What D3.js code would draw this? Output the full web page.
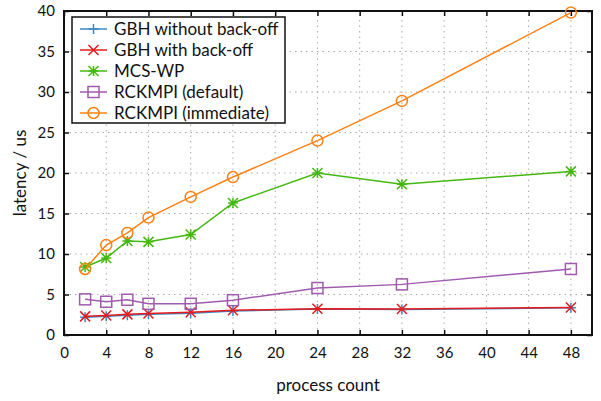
<!DOCTYPE html>
<html><head><meta charset="utf-8">
<script src="https://cdn.jsdelivr.net/npm/d3@7"></script>
<style>body{margin:0;background:#fff;} svg{display:block;font-family:Lato, "Open Sans", sans-serif;}</style>
</head><body>
<svg id="c" width="601" height="401"></svg>
<script>
const processCounts = [2, 4, 6, 8, 12, 16, 24, 32, 48];
const gbhWithout   = [2.2, 2.3, 2.45, 2.55, 2.7, 2.95, 3.2, 3.15, 3.35];
const gbhWith      = [2.3, 2.4, 2.55, 2.65, 2.8, 3.05, 3.25, 3.2, 3.4];
const mcsWp        = [8.4, 9.5, 11.6, 11.5, 12.4, 16.3, 20.0, 18.6, 20.2];
const rckDefault   = [4.4, 4.1, 4.35, 3.85, 3.85, 4.3, 5.8, 6.25, 8.15];
const rckImmediate = [8.15, 11.1, 12.6, 14.5, 17.05, 19.5, 24.0, 28.9, 39.8];
const seriesNames  = ["GBH without back-off", "GBH with back-off", "MCS-WP", "RCKMPI (default)", "RCKMPI (immediate)"];
const xTicks = [0,4,8,12,16,20,24,28,32,36,40,44,48];
const yTicks = [0,5,10,15,20,25,30,35,40];

const colors = ["#3b88c4", "#e41a1c", "#44b812", "#a05aae", "#ff8012"];
const markers = ["plus", "cross", "star", "square", "circle"];
const seriesVals = [gbhWithout, gbhWith, mcsWp, rckDefault, rckImmediate];

const svg = d3.select("#c");
const L = 64, R = 592, T = 11, B = 335;
const x = d3.scaleLinear().domain([0, 50]).range([L, R]);
const y = d3.scaleLinear().domain([0, 40]).range([B, T]);

// grid
const grid = svg.append("g").attr("stroke", "#aaaaaa").attr("stroke-width", 1).attr("stroke-dasharray", "1.5,4");
xTicks.forEach(t => { if (t > 0) grid.append("line").attr("x1", x(t)).attr("x2", x(t)).attr("y1", B).attr("y2", T); });
yTicks.forEach(t => { if (t > 0 && t < 40) grid.append("line").attr("x1", L).attr("x2", R).attr("y1", y(t)).attr("y2", y(t)); });

// axes
const fs = 15;
const ax = svg.append("g").attr("transform", `translate(0,${B})`)
  .call(d3.axisBottom(x).tickValues(xTicks).tickSize(-5).tickPadding(12));
const ay = svg.append("g").attr("transform", `translate(${L},0)`)
  .call(d3.axisLeft(y).tickValues(yTicks).tickSize(-5).tickPadding(9));
const axT = svg.append("g").attr("transform", `translate(0,${T})`)
  .call(d3.axisTop(x).tickValues(xTicks).tickSize(-5).tickFormat(""));
const ayR = svg.append("g").attr("transform", `translate(${R},0)`)
  .call(d3.axisRight(y).tickValues(yTicks).tickSize(-5).tickFormat(""));
[ax, ay, axT, ayR].forEach(g => {
  g.select(".domain").remove();
  g.selectAll("line").attr("stroke", "#111").attr("stroke-width", 1.5);
  g.selectAll("text").attr("font-size", fs).attr("fill", "#111").style("font-family", "Lato, sans-serif");
});
svg.append("rect").attr("x", L).attr("y", T).attr("width", R - L).attr("height", B - T)
  .attr("fill", "none").attr("stroke", "#111").attr("stroke-width", 2);

svg.append("text").attr("x", (L + R) / 2).attr("y", 391).attr("text-anchor", "middle")
  .attr("font-size", 17).attr("fill", "#111").text("process count");
svg.append("text").attr("transform", `translate(26,${(T + B) / 2}) rotate(-90)`).attr("text-anchor", "middle")
  .attr("font-size", 17).attr("fill", "#111").text("latency / us");

function drawMarker(g, type, cx, cy, color) {
  const s = 5;
  if (type === "plus") {
    g.append("path").attr("d", `M${cx - s},${cy}H${cx + s}M${cx},${cy - s}V${cy + s}`).attr("stroke", color).attr("stroke-width", 1.5);
  } else if (type === "cross") {
    g.append("path").attr("d", `M${cx - s},${cy - s}L${cx + s},${cy + s}M${cx - s},${cy + s}L${cx + s},${cy - s}`).attr("stroke", color).attr("stroke-width", 1.5);
  } else if (type === "star") {
    g.append("path").attr("d", `M${cx - s},${cy}H${cx + s}M${cx},${cy - s}V${cy + s}M${cx - s},${cy - s}L${cx + s},${cy + s}M${cx - s},${cy + s}L${cx + s},${cy - s}`).attr("stroke", color).attr("stroke-width", 1.5);
  } else if (type === "square") {
    g.append("rect").attr("x", cx - 5.5).attr("y", cy - 5.5).attr("width", 11).attr("height", 11).attr("fill", "none").attr("stroke", color).attr("stroke-width", 1.5);
  } else {
    g.append("circle").attr("cx", cx).attr("cy", cy).attr("r", 5.5).attr("fill", "none").attr("stroke", color).attr("stroke-width", 1.5);
  }
}

const line = d3.line().x(d => x(d[0])).y(d => y(d[1]));
seriesVals.forEach((vals, i) => {
  const pts = processCounts.map((p, j) => [p, vals[j]]);
  const g = svg.append("g");
  g.append("path").datum(pts).attr("d", line).attr("fill", "none").attr("stroke", colors[i]).attr("stroke-width", 1.5);
  pts.forEach(p => drawMarker(g, markers[i], x(p[0]), y(p[1]), colors[i]));
});

// legend
const lg = svg.append("g");
lg.append("rect").attr("x", 72).attr("y", 17).attr("width", 213).attr("height", 106)
  .attr("fill", "#fff").attr("stroke", "#111").attr("stroke-width", 1.5);
seriesNames.forEach((n, i) => {
  const ly = 29 + i * 21;
  lg.append("line").attr("x1", 80).attr("x2", 107).attr("y1", ly).attr("y2", ly).attr("stroke", colors[i]).attr("stroke-width", 1.5);
  drawMarker(lg, markers[i], 93.5, ly, colors[i]);
  lg.append("text").attr("x", 114).attr("y", ly + 6).attr("font-size", 17).attr("fill", "#111").text(n);
});
</script>
</body></html>
